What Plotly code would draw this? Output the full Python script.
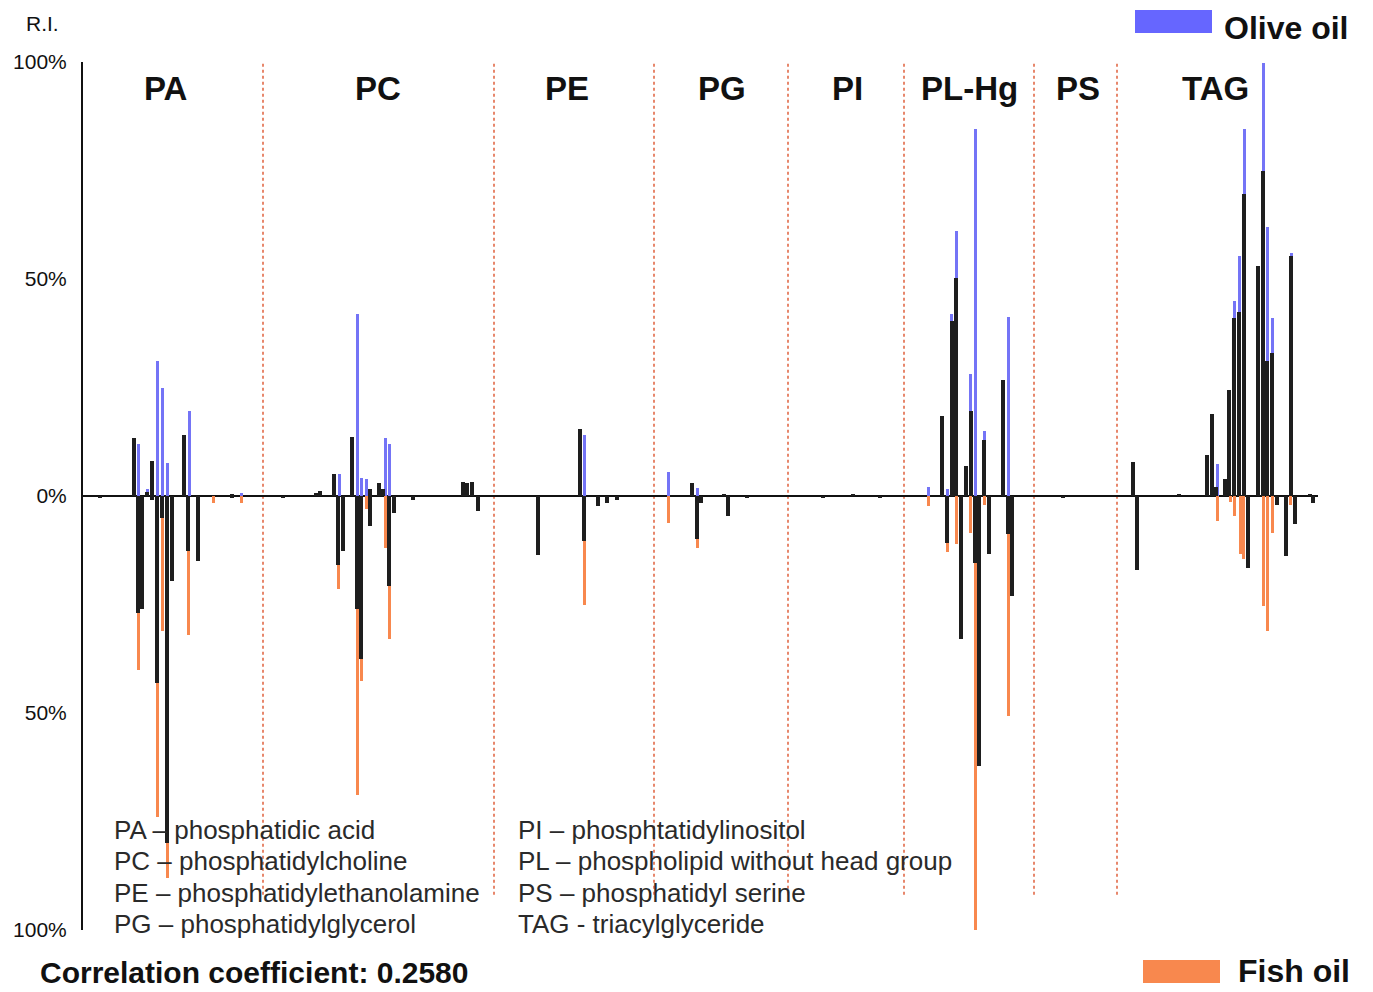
import plotly.graph_objects as go

# ---------------- data (peak position on an m/z-ordered scale, relative intensity %) ----------------
olive_x = [138, 147, 157, 162, 167, 189, 241,
           339, 357, 361, 366, 385, 389,
           584,
           668, 697,
           928, 947, 951, 956, 970, 975, 984, 1008,
           1217, 1234, 1239, 1244, 1263, 1267, 1272, 1291]
olive_y = [12, 1.5, 31, 25, 7.6, 19.6, 0.8,
           5, 42, 4.2, 4, 13.4, 12,
           14,
           5.5, 1.8,
           2, 1.6, 42, 61, 28, 84.5, 15, 41.3,
           7.4, 45, 55.4, 84.5, 99.8, 62, 41, 56]

olive_ref_x = [134, 147, 152, 184, 232,
               316, 320, 334, 352, 370, 379, 383, 463, 467, 472,
               580,
               692, 724,
               853,
               942, 952, 956, 966, 971, 984, 1003,
               1133, 1179, 1207, 1212, 1216, 1225, 1229, 1234, 1239, 1244, 1258, 1263, 1267, 1272, 1291, 1310]
olive_ref_y = [13.4, 1, 8, 14, 0.5,
               0.8, 1.2, 5, 13.6, 1.5, 3, 1.5, 3.2, 3, 3.2,
               15.5,
               3, 0.5,
               0.5,
               18.5, 40.4, 50.3, 7, 19.6, 13, 26.8,
               7.8, 0.5, 9.4, 19, 2, 4, 24.4, 41, 42.5, 69.7, 53, 75, 31, 33, 55.4, 0.5]

fish_x = [138, 157, 162, 167, 188, 213, 241,
          338, 357, 361, 366, 385, 389,
          584,
          668, 697,
          928, 947, 956, 970, 975, 984, 1008,
          1217, 1230, 1234, 1240, 1243, 1263, 1267, 1272, 1290]
fish_y = [-40, -74, -31, -88, -32, -1.5, -1.5,
          -21.5, -69, -42.7, -3, -12, -33,
          -25,
          -6.2, -12,
          -2.3, -13, -11, -8.5, -100, -2, -50.8,
          -5.8, -1.3, -4.6, -13.4, -14.5, -25.4, -31, -8.5, -2]

fish_ref_x = [100, 138, 142, 152, 157, 162, 167, 172, 188, 198, 232,
              283, 338, 343, 357, 361, 370, 389, 394, 413, 478,
              538, 584, 598, 607, 617,
              697, 701, 728, 747,
              823, 880,
              947, 961, 975, 979, 989, 1008, 1012,
              1063,
              1137, 1248, 1277, 1286, 1295, 1313]
fish_ref_y = [-0.5, -27, -26, -1, -43, -5, -80, -19.6, -12.7, -15, -0.5,
              -0.5, -16, -12.7, -26, -37.6, -7, -20.8, -4, -1, -3.5,
              -13.6, -10.4, -2.3, -1.5, -1,
              -10, -1.5, -4.6, -0.5,
              -0.5, -0.5,
              -10.8, -33, -15.4, -62.3, -13.4, -8.8, -23,
              -0.5,
              -17, -16.5, -2, -13.9, -6.5, -1.5]

class_names = ["PA", "PC", "PE", "PG", "PI", "PL-Hg", "PS", "TAG"]
class_centers = [165, 378, 567, 722, 847, 969, 1078, 1215]
class_bounds = [263, 494, 654, 788, 904, 1034, 1117]

y_tickvals = [-100, -50, 0, 50, 100]
y_ticktext = ["100%", "50%", "0%", "50%", "100%"]

legend_left = ["PA – phosphatidic acid", "PC – phosphatidylcholine",
               "PE – phosphatidylethanolamine", "PG – phosphatidylglycerol"]
legend_right = ["PI – phosphtatidylinositol", "PL – phospholipid without head group",
                "PS – phosphatidyl serine", "TAG - triacylglyceride"]

BLUE = "#7474F6"
ORANGE = "#F8884E"
BLACK = "#1E1E1E"

# page body has an 8px margin; figure sized to fit the window exactly
OFF = 8
W, H = 1373 - OFF, 992 - OFF


def px(x):
    return (x - OFF) / W


def py(y):
    return 1 - (y - OFF) / H


fig = go.Figure()
fig.add_trace(go.Bar(x=olive_x, y=olive_y, width=3, marker=dict(color=BLUE, line=dict(width=0)), name="Olive oil"))
fig.add_trace(go.Bar(x=fish_x, y=fish_y, width=3, marker=dict(color=ORANGE, line=dict(width=0)), name="Fish oil"))
fig.add_trace(go.Bar(x=olive_ref_x, y=olive_ref_y, width=3.6, marker=dict(color=BLACK, line=dict(width=0)), name="ref up"))
fig.add_trace(go.Bar(x=fish_ref_x, y=fish_ref_y, width=3.6, marker=dict(color=BLACK, line=dict(width=0)), name="ref down"))

x0_px, x1_px = 83, 1318
fig.update_layout(
    width=W, height=H, autosize=False,
    margin=dict(l=0, r=0, t=0, b=0, pad=0),
    paper_bgcolor="white", plot_bgcolor="white",
    barmode="overlay", showlegend=False, bargap=0,
    font=dict(family="Arial, Liberation Sans, sans-serif", color="#111"),
    xaxis=dict(domain=[px(x0_px), px(x1_px)], range=[x0_px, x1_px], showgrid=False, automargin=False,
               zeroline=False, showticklabels=False, ticks="", showline=False),
    yaxis=dict(domain=[py(930), py(62)], range=[-100, 100], showgrid=False, automargin=False,
               zeroline=True, zerolinecolor="#111", zerolinewidth=2.2,
               showline=True, linecolor="#111", linewidth=2,
               tickvals=y_tickvals, ticktext=y_ticktext, ticks="",
               ticklabelstandoff=10, tickfont=dict(size=21, color="#111")),
)

# dashed class separators
for b in class_bounds:
    fig.add_shape(type="line", xref="x", yref="y", x0=b, x1=b, y0=101, y1=-92,
                  line=dict(color="#E0603C", width=1.5, dash="dot"), layer="below")

# class labels
for name, cx in zip(class_names, class_centers):
    fig.add_annotation(x=cx, y=py(88), xref="x", yref="paper", text=f"<b>{name}</b>",
                       showarrow=False, font=dict(size=33, color="#111"), xanchor="center", yanchor="middle")

# R.I. label
fig.add_annotation(x=px(42), y=py(24), xref="paper", yref="paper", text="R.I.", showarrow=False,
                   font=dict(size=21, color="#111"), xanchor="center", yanchor="middle")

# abbreviation legend text
rows_y = [830, 861, 893, 924]
for t, yy in zip(legend_left, rows_y):
    fig.add_annotation(x=px(112), y=py(yy), xref="paper", yref="paper", text=t, showarrow=False,
                       font=dict(size=26, color="#2a2a2a"), xanchor="left", yanchor="middle")
for t, yy in zip(legend_right, rows_y):
    fig.add_annotation(x=px(516), y=py(yy), xref="paper", yref="paper", text=t, showarrow=False,
                       font=dict(size=26, color="#2a2a2a"), xanchor="left", yanchor="middle")

# correlation text
fig.add_annotation(x=px(38), y=py(972), xref="paper", yref="paper",
                   text="<b>Correlation coefficient: 0.2580</b>", showarrow=False,
                   font=dict(size=30, color="#111"), xanchor="left", yanchor="middle")

# series key (olive top-right, fish bottom-right)
fig.add_shape(type="rect", xref="paper", yref="paper", x0=px(1135), x1=px(1212),
              y0=py(33), y1=py(10), fillcolor="#6666FF", line=dict(width=0))
fig.add_annotation(x=px(1222), y=py(28), xref="paper", yref="paper", text="<b>Olive oil</b>",
                   showarrow=False, font=dict(size=32, color="#111"), xanchor="left", yanchor="middle")
fig.add_shape(type="rect", xref="paper", yref="paper", x0=px(1143), x1=px(1220),
              y0=py(983), y1=py(960), fillcolor=ORANGE, line=dict(width=0))
fig.add_annotation(x=px(1236), y=py(971), xref="paper", yref="paper", text="<b>Fish oil</b>",
                   showarrow=False, font=dict(size=32, color="#111"), xanchor="left", yanchor="middle")

fig.write_html("out.html")
